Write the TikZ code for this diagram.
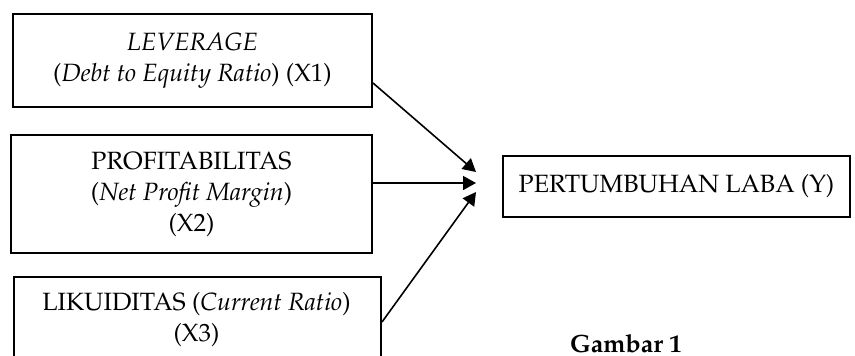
\documentclass[tikz,border=0pt]{standalone}
\usepackage[T1]{fontenc}
\usepackage{mathpazo}
\usetikzlibrary{positioning, arrows.meta}

\begin{document}
\begin{tikzpicture}[
  x=0.5pt, y=-0.5pt,
  >={Triangle[length=6.5pt, width=7pt]},
  every node/.style={font=\fontsize{12.5}{15.5}\selectfont}
]
\tikzset{
  box/.style  ={draw=black, line width=1pt, align=center, inner sep=2pt},
  arr/.style  ={->, line width=0.8pt},
  capt/.style ={font=\fontsize{12.5}{15.5}\selectfont\bfseries}
}
\useasboundingbox (0,0) rectangle (855,355);

%% ----- Independent variables -----
\node[box, minimum width=179.5pt, minimum height=46.5pt] (x1) at (192.5,60.5)
  {\textit{LEVERAGE}\\(\textit{Debt to Equity Ratio}) (X1)};
\node[box, minimum width=180.5pt, minimum height=59pt] (x2) at (191.5,194)
  {PROFITABILITAS\\(\textit{Net Profit Margin})\\(X2)};
\node[box, anchor=north west, minimum width=183.5pt, minimum height=50pt]
  (x3) at (13,276) {};
\node[align=center] (x3t) at (196.5,320)
  {LIKUIDITAS (\textit{Current Ratio})\\(X3)};

%% ----- Dependent variable -----
\node[box, minimum width=173.5pt, minimum height=30.5pt] (y) at (676.5,186.5)
  {PERTUMBUHAN LABA (Y)};

%% ----- Arrows (tips stop short of Y) -----
\coordinate (t1) at ([xshift=-13pt, yshift=7.25pt]y.west);
\coordinate (t2) at ([xshift=-13pt, yshift=1.75pt]y.west);
\coordinate (t3) at ([xshift=-13pt, yshift=-2.75pt]y.west);
\draw[arr] ([yshift=-11.25pt]x1.east) -- (t1);
\draw[arr] ([yshift=5.5pt]x2.east)   -- (t2);
\draw[arr] ([yshift=2.5pt]x3.east)   -- (t3);

%% ----- Caption -----
\node[capt, anchor=base west] (cap) at (563,352) {Gambar 1};

\end{tikzpicture}
\end{document}
